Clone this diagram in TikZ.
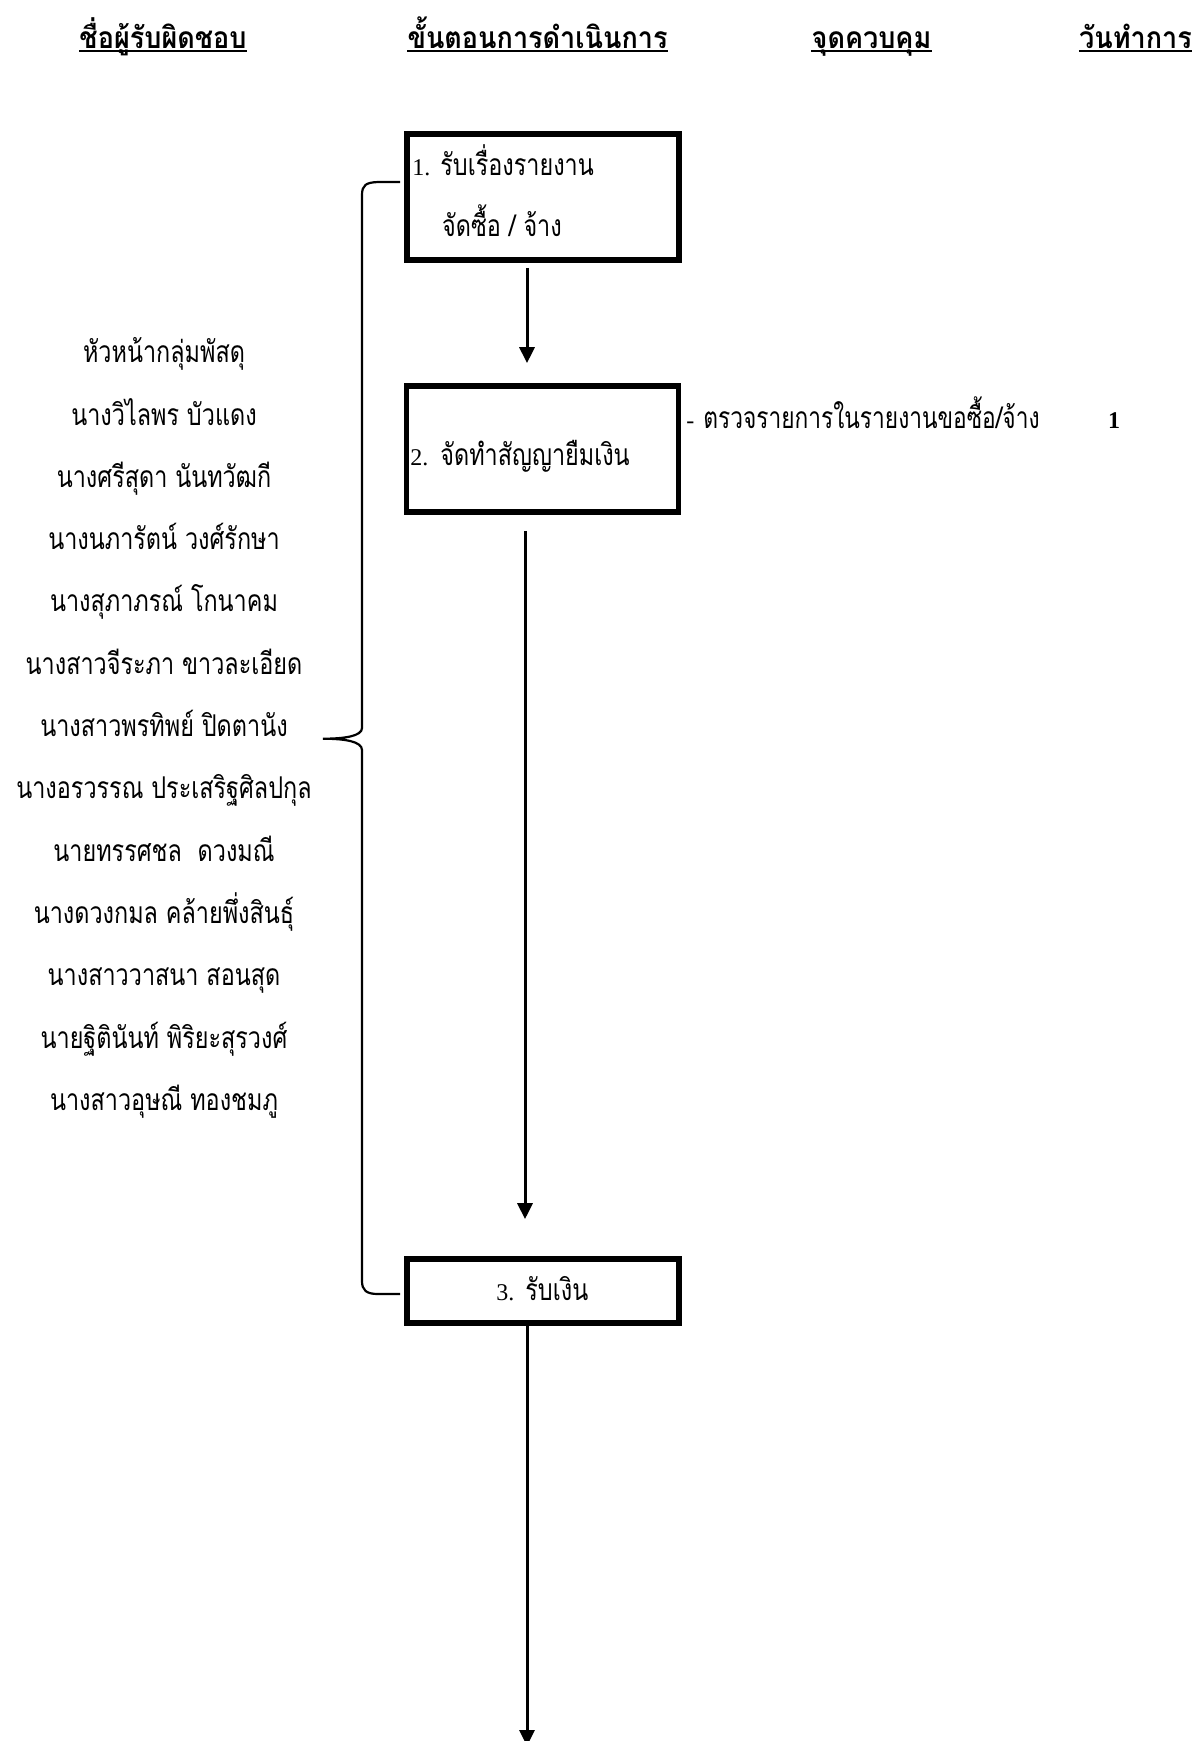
\documentclass[tikz,border=0pt]{standalone}
\usepackage{fontspec}
\usetikzlibrary{arrows.meta}
\newfontfamily\thai[Script=Thai,FakeStretch=0.78]{Loma}
\newfontfamily\thaic[Script=Thai,FakeStretch=0.757]{Loma}
\newfontfamily\thaihd[Script=Thai,FakeStretch=0.9]{Loma}
\newfontfamily\lat{Liberation Serif}
\newlength\px \setlength\px{0.5pt}
\newcommand\latn{\lat\fontsize{12pt}{14pt}\selectfont}
\begin{document}
\begin{tikzpicture}[x=0.5pt,y=-0.5pt,
  stepbox/.style={draw, line width=2.85pt, inner sep=0pt, minimum width=136pt},
  txt/.style={inner sep=0pt, font=\thai\fontsize{15pt}{18pt}\selectfont, anchor=base},
  ctxt/.style={inner sep=0pt, font=\thaic\fontsize{15pt}{18pt}\selectfont, anchor=base west},
  hd/.style={inner sep=0pt, font=\thaihd\bfseries\fontsize{15pt}{18pt}\selectfont, anchor=base},
  uline/.style={line width=1pt},
  arr/.style={line width=1.5pt, -{Triangle[width=7.5pt,length=8pt]}},
  bracestyle/.style={line width=1.1pt}]
\useasboundingbox[fill=white] (0,0) rectangle (1194,1741);
% headers
\node[hd] (h1) at (163,48) {ชื่อผู้รับผิดชอบ};
\node[hd] (h2) at (537.5,48) {ขั้นตอนการดำเนินการ};
\node[hd] (h3) at (871.5,48) {จุดควบคุม};
\node[hd] (h4) at (1135.5,48) {วันทำการ};
\foreach \h in {h1,h2,h3,h4}
  \draw[uline] ([yshift=-1.5pt]\h.base west) -- ([yshift=-1.5pt]\h.base east);
% boxes
\node[stepbox, minimum height=63pt] (b1) at (543,197) {};
\node[stepbox, minimum height=63pt] (b2) at (542.5,449) {};
\node[stepbox, minimum height=32pt] (b3) at (543,1291) {};
% box texts
\node[txt, anchor=base west] (t1a) at (412,175) {\makebox[28\px][l]{\latn 1.}รับเรื่องรายงาน};
\node[txt, anchor=base west] (t1b) at (441.7,236.7) {จัดซื้อ / จ้าง};
\node[txt, anchor=base west] (t2) at (410,465) {\makebox[30\px][l]{\latn 2.}จัดทำสัญญายืมเงิน};
\node[txt, anchor=base west] (t3) at (496,1300) {\makebox[29\px][l]{\latn 3.}รับเงิน};
% control point and day
\node[ctxt] (c1) at (686,428) {\makebox[17\px][l]{\latn -}ตรวจรายการในรายงานขอซื้อ/จ้าง};
\node[inner sep=0pt, anchor=base, font=\latn\bfseries] (d1) at (1114,428) {1};
% names
\foreach \t [count=\i] in {หัวหน้ากลุ่มพัสดุ, นางวิไลพร บัวแดง, นางศรีสุดา นันทวัฒกี, นางนภารัตน์ วงศ์รักษา, นางสุภาภรณ์ โกนาคม, นางสาวจีระภา ขาวละเอียด, นางสาวพรทิพย์ ปิดตานัง, นางอรวรรณ ประเสริฐศิลปกุล, นายทรรศชล\ \ ดวงมณี, นางดวงกมล คล้ายพึ่งสินธุ์, นางสาววาสนา สอนสุด, นายฐิตินันท์ พิริยะสุรวงศ์, นางสาวอุษณี ทองชมภู}
  \node[txt] (n\i) at (164,{362.7+62.3*(\i-1)}) {\t};
% arrows
\coordinate (ax1) at (527,0);
\coordinate (ax2) at (525,0);
\coordinate (endpt) at (527,1746);
\draw[arr, shorten <=2.5pt, shorten >=10pt] (b1.south -| ax1) -- (b2.north -| ax1);
\draw[arr, shorten <=8pt, shorten >=18.5pt] (b2.south -| ax2) -- (b3.north -| ax2);
\draw[arr] (b3.south -| ax1) -- (endpt);
% brace
\coordinate (bt) at (400,182);
\coordinate (btip) at (323,738.7);
\coordinate (bb) at (400,1294);
\draw[bracestyle] (bt) -- (378,182) .. controls (366,182.5) and (362,185) .. (362,195)
  -- (362,728) .. controls (362,736) and (345,738.7) .. (btip)
  .. controls (345,738.7) and (362,741.5) .. (362,750)
  -- (362,1281) .. controls (362,1290) and (366,1294) .. (378,1294) -- (bb);
\end{tikzpicture}
\end{document}
